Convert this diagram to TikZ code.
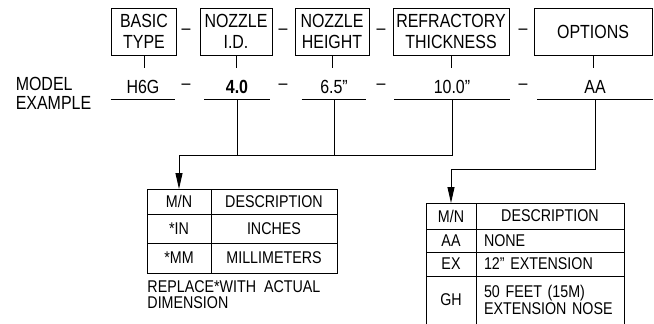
\documentclass[tikz,border=0pt]{standalone}
\usepackage{fontspec}
\setmainfont{Liberation Sans}[FakeStretch=0.84]
\usetikzlibrary{arrows.meta,positioning}

\tikzset{
  hdrbox/.style={draw, align=center, minimum height=47pt, inner sep=1pt, outer sep=0pt,
    font=\fontsize{19}{20.5}\selectfont},
  val/.style={anchor=south, inner ysep=5pt, text height=13pt, text depth=0pt,
    font=\fontsize{19}{20}\selectfont},
  cell/.style={draw, inner sep=0pt, outer sep=0pt, align=center,
    font=\fontsize{17}{13}\selectfont},
  lcell/.style={cell, text width=#1, inner xsep=8pt, align=left},
  arr/.style={-{Triangle[length=16pt,width=7pt]}}
}

\begin{document}
\begin{tikzpicture}[x=1pt, y=-1pt, line width=0.9pt]
  \useasboundingbox (0,0) rectangle (654,324);

  % heading boxes
  \node[hdrbox, minimum width=65pt]  (basic) at (144,31.5) {BASIC\\TYPE};
  \node[hdrbox, minimum width=72pt]  (nid)   at (236,31.5) {NOZZLE\\I.D.};
  \node[hdrbox, minimum width=74pt]  (nht)   at (332,31.5) {NOZZLE\\HEIGHT};
  \node[hdrbox, minimum width=116pt] (refr)  at (451,31.5) {REFRACTORY\\THICKNESS};
  \node[hdrbox, minimum width=118pt] (opt)   at (593,31.5) {OPTIONS};

  % model example values
  \node[anchor=west, align=left, font=\fontsize{19}{19}\selectfont] (model) at (12,93) {MODEL\\EXAMPLE};
  \node[val, minimum width=64pt]  (vbas) at (143,99) {H6G};
  \node[val, minimum width=65pt]  (vid)  at (237,99) {\textbf{4.0}};
  \node[val, minimum width=64pt]  (vht)  at (334,99) {6.5''};
  \node[val, minimum width=115pt] (vrth) at (452,99) {10.0''};
  \node[val, minimum width=115pt] (vopt) at (595,99) {AA};
  \foreach \n in {vbas,vid,vht,vrth,vopt}
    \draw (\n.south west) -- (\n.south east);

  % separating dashes
  \foreach \x/\i in {186/1,283/2,381/3,523/4} {
    \node[font=\fontsize{19}{20}\selectfont, inner sep=0pt] (dh\i) at (\x,32) {--};
    \node[font=\fontsize{19}{20}\selectfont, inner sep=0pt] (dv\i) at (\x,87) {--};
  }

  % ticks under the boxes
  \foreach \n in {basic,nid,nht,refr,opt}
    \draw (\n.south) -- ++(0,13);

  % table for the dimensions
  \node[cell, minimum width=64pt, minimum height=25pt, anchor=north west] (mnL) at (147,189) {M/N};
  \node[cell, minimum width=126pt, minimum height=25pt, right=0pt of mnL] (dsL) {DESCRIPTION};
  \node[cell, minimum width=64pt, minimum height=29pt, below=0pt of mnL] (inL) {*IN};
  \node[cell, minimum width=126pt, minimum height=29pt, right=0pt of inL] (inD) {INCHES};
  \node[cell, minimum width=64pt, minimum height=30pt, below=0pt of inL] (mmL) {*MM};
  \node[cell, minimum width=126pt, minimum height=30pt, right=0pt of mmL] (mmD) {MILLIMETERS};
  \node[anchor=north west, align=left, inner sep=0pt, font=\fontsize{17}{16}\selectfont]
    (note) at ([yshift=-7pt]mmL.south west) {REPLACE*WITH\ \ ACTUAL\\DIMENSION};

  % table for the options
  \node[cell, minimum width=50pt, minimum height=26pt, anchor=north west] (mnR) at (426,203) {M/N};
  \node[cell, minimum width=148pt, minimum height=26pt, right=0pt of mnR] (dsR) {DESCRIPTION};
  \node[cell, minimum width=50pt, minimum height=23pt, below=0pt of mnR] (aaR) {AA};
  \node[lcell=132pt, minimum height=23pt, right=0pt of aaR] (aaD) {NONE};
  \node[cell, minimum width=50pt, minimum height=24pt, below=0pt of aaR] (exR) {EX};
  \node[lcell=132pt, minimum height=24pt, right=0pt of exR] (exD) {12'' EXTENSION};
  \node[cell, draw=none, minimum width=50pt, minimum height=48pt, below=0pt of exR] (ghR) {GH};
  \node[lcell=132pt, draw=none, minimum height=48pt, right=0pt of ghR] (ghD) {50 FEET (15M)\\EXTENSION NOSE};
  \draw (ghR.north west) -- (ghR.south west)
        (ghR.north east) -- (ghR.south east)
        (ghD.north east) -- (ghD.south east);

  % connectors
  \coordinate (busL) at (0,155);
  \coordinate (busR) at (0,169);
  \draw[arr] (vrth.south) |- (busL -| mnL.north) -- (mnL.north);
  \draw (vid.south) -- (vid.south |- busL);
  \draw (vht.south) -- (vht.south |- busL);
  \draw[arr] (vopt.south) |- (busR -| mnR.north) -- (mnR.north);
\end{tikzpicture}
\end{document}
